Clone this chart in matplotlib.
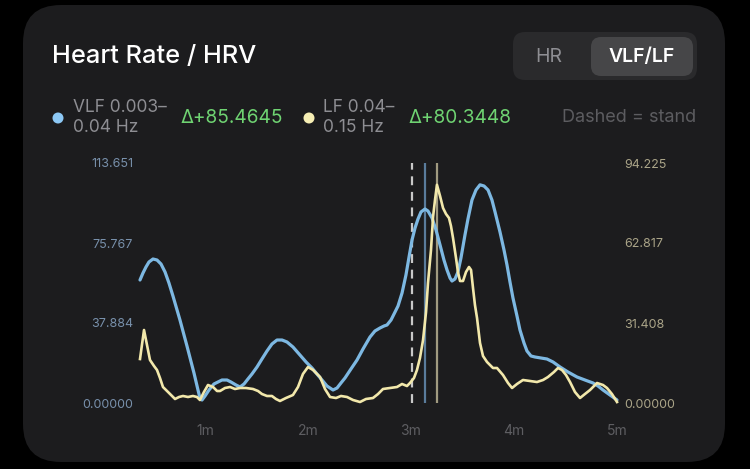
import matplotlib
matplotlib.use("Agg")
import matplotlib.pyplot as plt
from matplotlib.patches import FancyBboxPatch, Circle

plt.rcParams['font.family'] = ['Inter', 'DejaVu Sans']

# VLF 0.003-0.04 Hz (left axis), time in minutes
vlf_t = [0.369, 0.398, 0.427, 0.456, 0.495, 0.534, 0.573, 0.612, 0.650, 0.689,
         0.757, 0.825, 0.893, 0.932, 0.951, 0.971, 1.000, 1.039, 1.087, 1.165,
         1.214, 1.252, 1.301, 1.340, 1.379, 1.417, 1.456, 1.505, 1.553, 1.602,
         1.650, 1.699, 1.748, 1.796, 1.854, 1.922, 1.981, 2.039, 2.087, 2.136,
         2.184, 2.243, 2.282, 2.320, 2.359, 2.417, 2.476, 2.534, 2.602, 2.650,
         2.699, 2.738, 2.767, 2.806, 2.845, 2.874, 2.913, 2.951, 2.981, 3.010,
         3.039, 3.068, 3.097, 3.136, 3.165, 3.204, 3.243, 3.282, 3.320, 3.350,
         3.379, 3.398, 3.427, 3.456, 3.485, 3.524, 3.553, 3.592, 3.631, 3.670,
         3.709, 3.748, 3.786, 3.816, 3.864, 3.903, 3.932, 3.961, 3.990, 4.029,
         4.058, 4.097, 4.126, 4.165, 4.204, 4.262, 4.320, 4.379, 4.447, 4.524,
         4.612, 4.689, 4.767, 4.816, 4.864, 4.932, 5.000]
vlf = [58.25, 61.56, 64.40, 66.77, 68.19, 67.72, 65.82, 62.04, 56.83, 50.67,
       39.30, 26.99, 14.21, 6.16, 2.37, 1.42, 3.31, 6.16, 9.00, 10.89,
       10.89, 9.94, 8.52, 7.58, 9.00, 11.37, 13.73, 17.05, 20.84, 24.62,
       27.94, 29.83, 29.83, 28.89, 26.52, 22.73, 19.42, 16.57, 13.73, 10.89,
       8.05, 6.16, 7.10, 9.47, 11.84, 16.10, 20.36, 25.57, 31.25, 34.10,
       35.52, 36.46, 36.94, 39.30, 43.09, 45.93, 52.09, 60.61, 69.14, 77.19,
       82.87, 87.13, 90.45, 91.87, 90.92, 87.61, 81.92, 74.82, 67.72, 62.98,
       59.19, 57.77, 58.72, 62.04, 68.66, 79.56, 87.13, 96.13, 100.87, 103.32,
       102.76, 100.87, 96.13, 90.45, 80.98, 72.45, 65.35, 57.30, 49.72, 41.20,
       34.57, 28.41, 24.62, 22.26, 21.78, 21.31, 20.84, 19.42, 17.05, 14.68,
       12.31, 10.89, 9.47, 8.05, 6.16, 3.79, 1.42]

# LF 0.04-0.15 Hz (right axis)
lf_t = [0.369, 0.408, 0.437, 0.466, 0.505, 0.534, 0.563, 0.592, 0.641, 0.680,
        0.709, 0.748, 0.786, 0.835, 0.883, 0.922, 0.951, 0.990, 1.029, 1.078,
        1.117, 1.146, 1.194, 1.243, 1.291, 1.340, 1.398, 1.466, 1.515, 1.553,
        1.602, 1.650, 1.689, 1.728, 1.786, 1.854, 1.903, 1.951, 2.000, 2.049,
        2.117, 2.165, 2.214, 2.272, 2.320, 2.379, 2.437, 2.505, 2.563, 2.631,
        2.680, 2.728, 2.796, 2.864, 2.913, 2.961, 2.990, 3.029, 3.058, 3.087,
        3.117, 3.146, 3.165, 3.194, 3.214, 3.233, 3.252, 3.282, 3.311, 3.340,
        3.369, 3.388, 3.408, 3.437, 3.456, 3.476, 3.505, 3.534, 3.563, 3.583,
        3.602, 3.621, 3.641, 3.670, 3.699, 3.738, 3.796, 3.835, 3.893, 3.942,
        3.981, 4.029, 4.087, 4.155, 4.223, 4.282, 4.330, 4.388, 4.427, 4.466,
        4.505, 4.544, 4.592, 4.641, 4.689, 4.738, 4.806, 4.864, 4.903, 4.951,
        5.000]
lf = [17.27, 28.66, 22.77, 16.88, 14.53, 12.96, 9.82, 6.28, 4.32, 2.75,
      1.57, 2.36, 2.75, 2.36, 2.75, 2.36, 1.18, 4.32, 7.07, 6.28,
      4.71, 4.71, 5.89, 6.28, 5.50, 5.89, 5.89, 5.50, 4.71, 3.53,
      2.75, 2.75, 1.57, 0.79, 1.96, 3.14, 6.28, 11.39, 14.13, 12.96,
      10.21, 5.50, 2.36, 1.96, 2.75, 2.36, 1.18, 0.39, 1.57, 1.96,
      3.53, 5.50, 5.89, 6.28, 7.46, 6.67, 7.85, 9.82, 12.96, 17.67,
      24.73, 35.73, 47.11, 60.07, 73.02, 79.70, 85.66, 81.27, 76.56, 74.20,
      72.63, 69.49, 64.78, 56.93, 51.43, 47.90, 47.90, 51.43, 53.39, 52.22,
      45.15, 38.47, 33.37, 23.56, 18.45, 16.10, 13.74, 13.74, 10.99, 7.85,
      5.89, 7.46, 9.03, 8.64, 8.24, 9.03, 10.21, 12.17, 13.74, 12.96,
      10.99, 8.24, 4.32, 1.96, 3.53, 5.10, 7.85, 7.07, 5.89, 3.53,
      0.39]

vlf_ticks = [0, 37.884, 75.767, 113.651]
vlf_labels = ["0.00000", "37.884", "75.767", "113.651"]
lf_ticks = [0, 31.408, 62.817, 94.225]
lf_labels = ["0.00000", "31.408", "62.817", "94.225"]
x_ticks = [1, 2, 3, 4, 5]
x_labels = ["1m", "2m", "3m", "4m", "5m"]

stand_t = 3.010
vlf_peak_t = 3.136
lf_peak_t = 3.252

W, H = 750, 469
fig = plt.figure(figsize=(W / 100, H / 100), dpi=100, facecolor="black")

# background layer in pixel coordinates
bg = fig.add_axes([0, 0, 1, 1])
bg.set_xlim(0, W)
bg.set_ylim(H, 0)
bg.axis("off")
bg.add_patch(FancyBboxPatch((23, 5), 702, 457, boxstyle="round,pad=0,rounding_size=38",
                            fc="#1c1c1e", ec="none"))
bg.add_patch(FancyBboxPatch((513, 32), 184, 48, boxstyle="round,pad=0,rounding_size=12",
                            fc="#2a2a2c", ec="none"))
bg.add_patch(FancyBboxPatch((591, 37), 102, 39, boxstyle="round,pad=0,rounding_size=10",
                            fc="#464648", ec="none"))

bg.text(52, 56, "Heart Rate / HRV", color="white", fontsize=18.3, fontweight="medium",
        va="center", ha="left")
bg.text(549, 57, "HR", color="#8e8e93", fontsize=14, va="center", ha="center")
bg.text(642, 57, "VLF/LF", color="white", fontsize=14, fontweight="semibold",
        va="center", ha="center")

# legend row
bg.add_patch(Circle((58, 118), 5.5, fc="#8cc8f5", ec="none"))
bg.text(73, 108, "VLF 0.003–", color="#8e8e93", fontsize=12.5, va="center")
bg.text(73, 128, "0.04 Hz", color="#8e8e93", fontsize=12.5, va="center")
bg.text(181, 118, "Δ+85.4645", color="#6fd372", fontsize=13.7, va="center")
bg.add_patch(Circle((309, 118), 5.5, fc="#f6eeb4", ec="none"))
bg.text(323, 108, "LF 0.04–", color="#8e8e93", fontsize=12.5, va="center")
bg.text(323, 128, "0.15 Hz", color="#8e8e93", fontsize=12.5, va="center")
bg.text(409, 118, "Δ+80.3448", color="#6fd372", fontsize=13.7, va="center")
bg.text(696, 118, "Dashed = stand", color="#5c5c60", fontsize=13, va="center", ha="right")

# chart
ax = fig.add_axes([140 / W, (H - 403) / H, 477 / W, 240 / H])
ax.set_facecolor("none")
ax.set_xlim(vlf_t[0], 5.0)
ax.set_ylim(0, 113.651)
for s in ax.spines.values():
    s.set_visible(False)

ax.axvline(stand_t, color="#c8c8c8", lw=1.6, ls=(0, (4, 3)))
ax.axvline(vlf_peak_t, color="#5a7c9c", lw=1.6)
ax.axvline(lf_peak_t, color="#a09a80", lw=1.6)

ax.plot(vlf_t, vlf, color="#7db8e2", lw=2.3, solid_capstyle="round",
        solid_joinstyle="round", clip_on=False)

ax.set_yticks(vlf_ticks)
ax.set_yticklabels(vlf_labels)
ax.set_xticks(x_ticks)
ax.set_xticklabels(x_labels)
ax.tick_params(axis="y", length=0, pad=5, labelsize=9, labelcolor="#7890ab")
ax.tick_params(axis="x", length=0, pad=15, labelsize=10, labelcolor="#5e5e62")

ax2 = ax.twinx()
ax2.set_ylim(0, 94.225)
for s in ax2.spines.values():
    s.set_visible(False)
ax2.plot(lf_t, lf, color="#f2e8ab", lw=1.9, solid_joinstyle="round", clip_on=False)
ax2.set_yticks(lf_ticks)
ax2.set_yticklabels(lf_labels)
ax2.tick_params(axis="y", length=0, pad=5, labelsize=9, labelcolor="#aaa488")

fig.savefig("out.png", dpi=100, facecolor="black")
